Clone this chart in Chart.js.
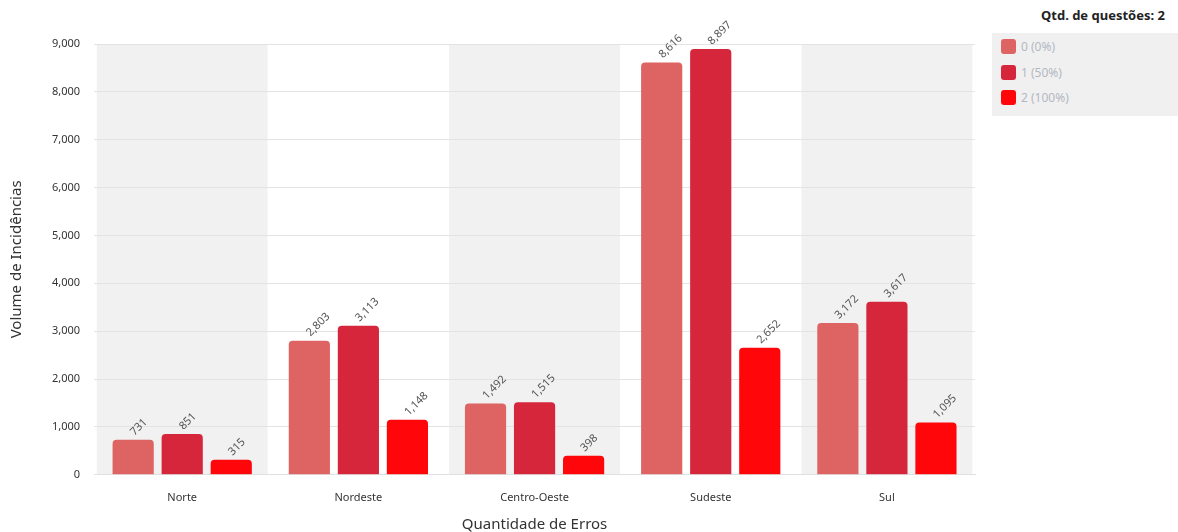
<!DOCTYPE html>
<html>
<head>
<meta charset="utf-8">
<script src="https://cdn.jsdelivr.net/npm/chart.js@4"></script>
<style>
  body { margin: 0; background: #fff; font-family: "Noto Sans", sans-serif; overflow: hidden; }
  #wrap { position: relative; width: 1178px; height: 532px; }
  #box { position: absolute; left: 0; top: 0; width: 985px; height: 534px; }
  #legendTitle { position: absolute; right: 13px; top: 6px; font-size: 13px; font-weight: bold; color: #222; }
  #legend { position: absolute; left: 992px; top: 33px; width: 186px; height: 83px; background: #f0f0f0; }
  .item { position: absolute; left: 9px; height: 16px; font-size: 12px; color: #b3b8c3; line-height: 16px; }
  .sw { display: inline-block; width: 15px; height: 15px; border-radius: 3px; vertical-align: top; margin-right: 5px; }
</style>
</head>
<body>
<div id="wrap">
  <div id="box"><canvas id="chart"></canvas></div>
  <div id="legendTitle">Qtd. de questões: 2</div>
  <div id="legend"></div>
</div>
<script>
const regions = ["Norte", "Nordeste", "Centro-Oeste", "Sudeste", "Sul"];
const seriesNames = ["0 (0%)", "1 (50%)", "2 (100%)"];
const errors0 = [731, 2803, 1492, 8616, 3172];
const errors1 = [851, 3113, 1515, 8897, 3617];
const errors2 = [315, 1148, 398, 2652, 1095];
const colors = ["#dd6463", "#d6263b", "#ff070a"];

// legend in html
const legendBox = document.getElementById("legend");
seriesNames.forEach((name, i) => {
    const item = document.createElement("div");
    item.className = "item";
    item.style.top = (6 + i * 25.5) + "px";
    item.innerHTML = '<span class="sw" style="background:' + colors[i] + '"></span>' + name;
    legendBox.appendChild(item);
});

const bandPlugin = {
    id: "bands",
    beforeDraw(chart) {
        const { ctx, chartArea, scales } = chart;
        const x = scales.x;
        const w = (chartArea.right - chartArea.left) / regions.length * 0.97;
        ctx.save();
        ctx.fillStyle = "#f1f1f1";
        for (let i = 0; i < regions.length; i += 2) {
            const cx = x.getPixelForValue(i);
            ctx.fillRect(cx - w / 2, chartArea.top, w, chartArea.bottom - chartArea.top);
        }
        ctx.restore();
    }
};

const labelPlugin = {
    id: "valueLabels",
    afterDatasetsDraw(chart) {
        const ctx = chart.ctx;
        ctx.save();
        ctx.font = "11px 'Noto Sans'";
        ctx.fillStyle = "#555";
        ctx.textAlign = "left";
        ctx.textBaseline = "middle";
        chart.data.datasets.forEach((ds, di) => {
            chart.getDatasetMeta(di).data.forEach((bar, i) => {
                ctx.save();
                ctx.translate(bar.x - 1, bar.y - 6);
                ctx.rotate(-Math.PI / 4);
                ctx.fillText(ds.data[i].toLocaleString("en-US"), 0, 0);
                ctx.restore();
            });
        });
        ctx.restore();
    }
};

new Chart(document.getElementById("chart"), {
    type: "bar",
    data: {
        labels: regions,
        datasets: [errors0, errors1, errors2].map((d, i) => ({
            label: seriesNames[i],
            data: d,
            backgroundColor: colors[i],
            borderRadius: 4,
            borderSkipped: "bottom",
            categoryPercentage: 0.835,
            barPercentage: 0.84
        }))
    },
    options: {
        responsive: true,
        maintainAspectRatio: false,
        animation: false,
        layout: { padding: { top: 44, right: 10, left: 8, bottom: 0 } },
        plugins: {
            legend: { display: false },
            tooltip: { enabled: false }
        },
        scales: {
            x: {
                grid: { display: false },
                border: { color: "#e0e0e0" },
                ticks: { color: "#333", font: { family: "Noto Sans", size: 11 }, padding: 8 },
                title: { display: true, text: "Quantidade de Erros", color: "#333", font: { family: "Noto Sans", size: 15 }, padding: { top: 4, bottom: 0 } }
            },
            y: {
                min: 0,
                max: 9000,
                ticks: {
                    stepSize: 1000,
                    color: "#333",
                    font: { family: "Noto Sans", size: 11 },
                    padding: 14,
                    callback: v => v.toLocaleString("en-US")
                },
                grid: { color: "#e3e3e3", drawTicks: false },
                border: { display: false },
                title: { display: true, text: "Volume de Incidências", color: "#333", font: { family: "Noto Sans", size: 15 }, padding: { top: 0, bottom: 12 } }
            }
        }
    },
    plugins: [bandPlugin, labelPlugin]
});
</script>
</body>
</html>
